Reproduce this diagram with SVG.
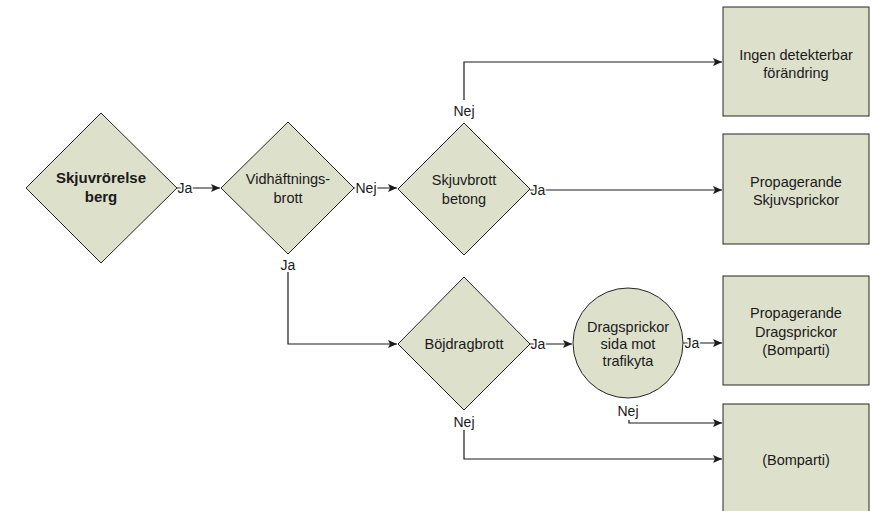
<svg xmlns="http://www.w3.org/2000/svg" width="879" height="511" viewBox="0 0 879 511">
<style>
.n{fill:#dde0cb;stroke:#262626;stroke-width:1}
.t{font-family:"Liberation Sans",Arial,sans-serif;font-size:14.5px;fill:#1a1a1a;text-anchor:middle}
.b{font-weight:bold;font-size:15px}
.c{fill:none;stroke:#1a1a1a;stroke-width:1.2}
.l{font-family:"Liberation Sans",Arial,sans-serif;font-size:14px;fill:#1a1a1a;text-anchor:middle;stroke:#fff;stroke-width:3;paint-order:stroke;stroke-linejoin:round}
</style>
<defs>
<marker id="ah" markerWidth="10" markerHeight="8" refX="9" refY="4" orient="auto" markerUnits="userSpaceOnUse">
<path d="M0,0 L9,4 L0,8 L2,4 Z" fill="#1a1a1a"/>
</marker>
</defs>
<g id="connectors">
<path class="c" d="M177,188 H220" marker-end="url(#ah)"/>
<path class="c" d="M354,188 H397" marker-end="url(#ah)"/>
<path class="c" d="M464,100 V62 H722" marker-end="url(#ah)"/>
<path class="c" d="M530,190 H722" marker-end="url(#ah)"/>
<path class="c" d="M288,272 V344 H397" marker-end="url(#ah)"/>
<path class="c" d="M530,344 H572" marker-end="url(#ah)"/>
<path class="c" d="M683,343 H722" marker-end="url(#ah)"/>
<path class="c" d="M464,430 V459 H722" marker-end="url(#ah)"/>
<path class="c" d="M629,420 V423 H722" marker-end="url(#ah)"/>
</g>
<g id="labels">
<text class="l" x="185" y="193">Ja</text>
<text class="l" x="366" y="193">Nej</text>
<text class="l" x="464" y="116">Nej</text>
<text class="l" x="538" y="195">Ja</text>
<text class="l" x="288" y="270">Ja</text>
<text class="l" x="538" y="349">Ja</text>
<text class="l" x="692" y="348">Ja</text>
<text class="l" x="464" y="427">Nej</text>
<text class="l" x="628" y="416">Nej</text>
</g>
<g id="skjuvrorelse">
<polygon class="n" points="101,113 177,188 101,263 26,188"/>
<text class="t b" x="101" y="183">Skjuvrörelse</text>
<text class="t b" x="101" y="202">berg</text>
</g>
<g id="vidhaftning">
<polygon class="n" points="288,122 354,188 288,254 221,188"/>
<text class="t" x="288" y="184">Vidhäftnings-</text>
<text class="t" x="288" y="203">brott</text>
</g>
<g id="skjuvbrott">
<polygon class="n" points="464,123 530,189 464,255 398,189"/>
<text class="t" x="464" y="185">Skjuvbrott</text>
<text class="t" x="464" y="204">betong</text>
</g>
<g id="bojdrag">
<polygon class="n" points="464,277 530,344 464,410 398,344"/>
<text class="t" x="464" y="349">Böjdragbrott</text>
</g>
<g id="dragsprickor">
<circle class="n" cx="628" cy="343" r="55"/>
<text class="t" x="628" y="332">Dragsprickor</text>
<text class="t" x="628" y="349">sida mot</text>
<text class="t" x="628" y="366">trafikyta</text>
</g>
<g id="ingen">
<rect class="n" x="723" y="7" width="146" height="109"/>
<text class="t" x="796" y="60">Ingen detekterbar</text>
<text class="t" x="796" y="78">förändring</text>
</g>
<g id="skjuvsprickor">
<rect class="n" x="723" y="134" width="146" height="110"/>
<text class="t" x="796" y="187">Propagerande</text>
<text class="t" x="796" y="205">Skjuvsprickor</text>
</g>
<g id="prop-drag">
<rect class="n" x="723" y="276" width="146" height="109"/>
<text class="t" x="796" y="318">Propagerande</text>
<text class="t" x="796" y="337">Dragsprickor</text>
<text class="t" x="796" y="355">(Bomparti)</text>
</g>
<g id="bomparti">
<rect class="n" x="723" y="404" width="146" height="110"/>
<text class="t" x="796" y="465">(Bomparti)</text>
</g>
</svg>
